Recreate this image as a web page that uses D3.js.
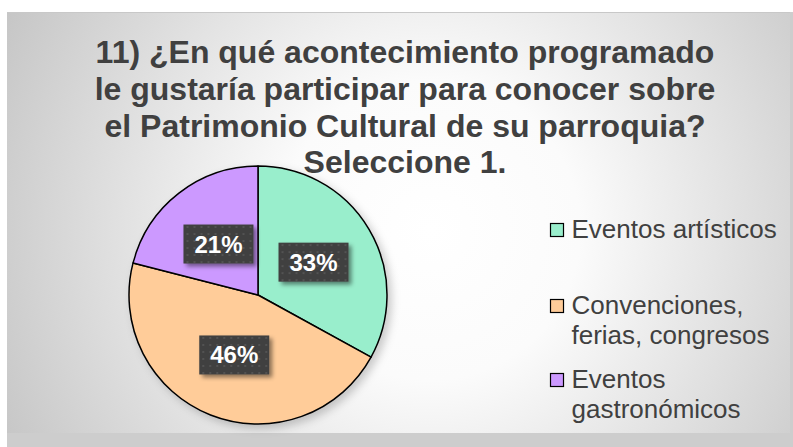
<!DOCTYPE html>
<head>
  <meta charset="utf-8">
  <title>Acontecimiento programado</title>
  <style>
    body { margin: 0; background: #fff; }
    svg { display: block; font-family: Arial, "Liberation Sans", sans-serif; }
  </style>
</head>
<body>
  <svg width="793" height="447"></svg>
</body>

<script src="https://d3js.org/d3.v7.min.js"></script>
<script>

var categories = ["Eventos artísticos", "Convenciones, ferias, congresos", "Eventos gastronómicos"];
var values = [33, 46, 21];
var legendLines = [["Eventos artísticos"], ["Convenciones,", "ferias, congresos"], ["Eventos", "gastronómicos"]];
var titleLines = [
  "11) ¿En qué acontecimiento programado",
  "le gustaría participar para conocer sobre",
  "el Patrimonio Cultural de su parroquia?",
  "Seleccione 1."
];
var colors = ["#99eecc", "#ffcc99", "#cc99ff"];

var svg = d3.select("svg"),
    width = +svg.attr("width"),
    height = +svg.attr("height");

var defs = svg.append("defs");

var grad = defs.append("radialGradient")
    .attr("id", "bg")
    .attr("gradientUnits", "userSpaceOnUse")
    .attr("cx", 430).attr("cy", 230).attr("r", 500);
grad.append("stop").attr("offset", "0%").attr("stop-color", "#ffffff");
grad.append("stop").attr("offset", "30%").attr("stop-color", "#fbfbfb");
grad.append("stop").attr("offset", "100%").attr("stop-color", "#c2c2c2");

var dots = defs.append("pattern")
    .attr("id", "dots")
    .attr("patternUnits", "userSpaceOnUse")
    .attr("width", 7).attr("height", 7);
dots.append("rect").attr("width", 7).attr("height", 7).attr("fill", "#404040");
dots.append("rect").attr("x", 3).attr("y", 3).attr("width", 2).attr("height", 2).attr("fill", "#525252");

var shadow = defs.append("filter").attr("id", "shadow")
    .attr("x", "-20%").attr("y", "-20%").attr("width", "150%").attr("height", "160%");
shadow.append("feDropShadow")
    .attr("dx", 3).attr("dy", 3).attr("stdDeviation", 2)
    .attr("flood-color", "#000").attr("flood-opacity", 0.45);

var pieShadow = defs.append("filter").attr("id", "pieShadow")
    .attr("x", "-20%").attr("y", "-20%").attr("width", "140%").attr("height", "140%");
pieShadow.append("feDropShadow")
    .attr("dx", 4).attr("dy", 4).attr("stdDeviation", 4)
    .attr("flood-color", "#000").attr("flood-opacity", 0.2);

// chart area, with a darker band at the bottom and right
svg.append("rect")
    .attr("x", 7).attr("y", 12).attr("width", width - 7).attr("height", height - 12)
    .attr("fill", "#cdcdcd");
svg.append("rect")
    .attr("x", 7).attr("y", 12).attr("width", 783).attr("height", 421)
    .attr("fill", "url(#bg)");
svg.append("line")
    .attr("x1", 7).attr("x2", 790).attr("y1", 12.5).attr("y2", 12.5)
    .attr("stroke", "#c8c8c8");

// title
svg.append("g")
    .selectAll("text")
    .data(titleLines)
    .enter().append("text")
      .attr("x", 405)
      .attr("y", function(d, i) { return 63 + i * 36.8; })
      .attr("text-anchor", "middle")
      .attr("font-size", 32)
      .attr("font-weight", "bold")
      .attr("fill", "#404040")
      .text(function(d) { return d; });

// pie
var radius = 129;
var pie = d3.pie().sort(null).value(function(d) { return d; });
var arc = d3.arc().innerRadius(0).outerRadius(radius);
var labelArc = d3.arc().innerRadius(radius * 0.5).outerRadius(radius * 0.5);
var arcs = pie(values);

var g = svg.append("g").attr("transform", "translate(258,295)");

g.append("g")
    .attr("filter", "url(#pieShadow)")
  .selectAll("path")
  .data(arcs)
  .enter().append("path")
    .attr("d", arc)
    .attr("fill", function(d, i) { return colors[i]; })
    .attr("stroke", "#000")
    .attr("stroke-width", 1.5)
    .attr("stroke-linejoin", "round");

var label = g.selectAll(".label")
    .data(arcs)
    .enter().append("g")
      .attr("class", "label")
      .attr("transform", function(d) { return "translate(" + labelArc.centroid(d) + ")"; });

label.append("rect")
    .attr("x", -35).attr("y", -19.5)
    .attr("width", 70).attr("height", 39)
    .attr("fill", "url(#dots)")
    .attr("filter", "url(#shadow)");

label.append("text")
    .attr("y", 8.5)
    .attr("text-anchor", "middle")
    .attr("font-size", 24)
    .attr("font-weight", "bold")
    .attr("fill", "#fff")
    .text(function(d) { return d.value + "%"; });

// legend
var legendY = [238, 314, 388];
var legend = svg.append("g")
    .selectAll("g")
    .data(categories)
    .enter().append("g")
      .attr("transform", function(d, i) { return "translate(550," + legendY[i] + ")"; });

legend.append("rect")
    .attr("x", 0.5).attr("y", -14.5)
    .attr("width", 13).attr("height", 13)
    .attr("fill", function(d, i) { return colors[i]; })
    .attr("stroke", "#000")
    .attr("stroke-width", 1.2);

legend.append("text")
    .attr("x", 21.5)
    .attr("font-size", 26)
    .attr("fill", "#404040")
    .selectAll("tspan")
    .data(function(d, i) { return legendLines[i]; })
    .enter().append("tspan")
      .attr("x", 21.5)
      .attr("dy", function(d, i) { return i === 0 ? 0 : 30; })
      .text(function(d) { return d; });

</script>
</html>
